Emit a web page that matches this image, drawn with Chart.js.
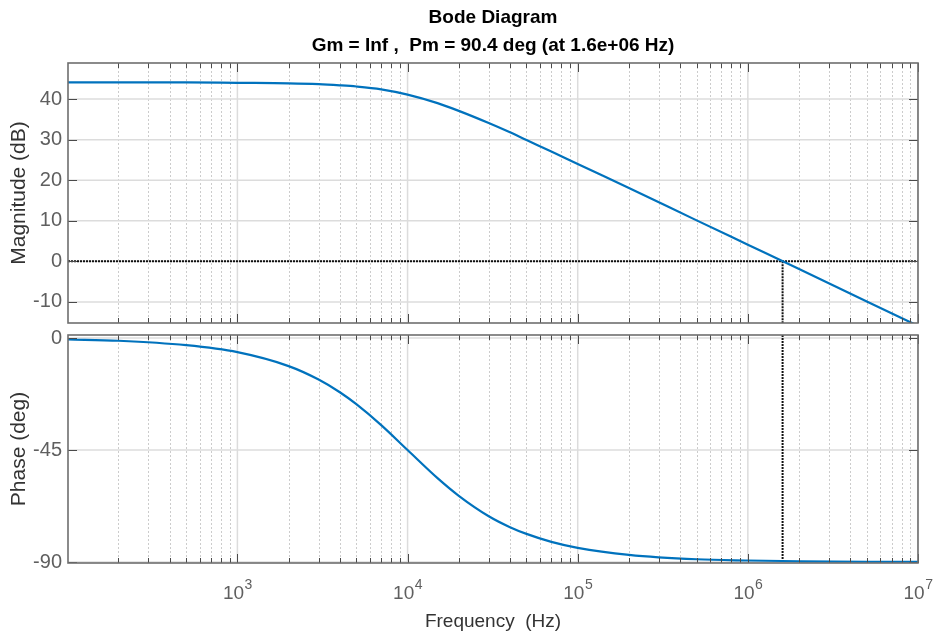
<!DOCTYPE html>
<html>
<head>
<meta charset="utf-8">
<title>Bode Diagram</title>
<script src="https://cdn.jsdelivr.net/npm/chart.js@4.4.1/dist/chart.umd.min.js"></script>
<style>
  body { margin: 0; background: #fff; }
  #wrap { position: relative; width: 933px; height: 637px; }
  #magChart { position: absolute; left: 0; top: 0; }
  #phaseChart { position: absolute; left: 0; top: 328px; }
</style>
</head>
<body>
<div id="wrap">
  <canvas id="magChart" width="933" height="328"></canvas>
  <canvas id="phaseChart" width="933" height="309"></canvas>
</div>
<script>
// values
const freq      = [101, 200, 500, 1e3, 2e3, 3e3, 4e3, 5e3, 7e3, 1e4, 1.5e4, 2e4, 3e4, 4e4, 5e4, 7e4, 1e5, 2e5, 5e5, 1e6, 2e6, 5e6, 1e7];
const magnitude = [44.1, 44.1, 44.1, 44.0, 43.9, 43.7, 43.4, 43.1, 42.4, 41.1, 39.0, 37.1, 34.1, 31.8, 29.9, 27.1, 24.0, 18.1, 10.1, 4.1, -1.9, -9.9, -15.9];
const phase     = [-0.6, -1.1, -2.9, -5.7, -11.3, -16.7, -21.8, -26.6, -35.0, -45.0, -56.3, -63.4, -71.6, -76.0, -78.7, -81.9, -84.3, -87.1, -88.9, -89.4, -89.7, -89.9, -89.9];

const crossFreq  = 1.6e6;
const freqRange  = [101, 1e7];
const magRange   = [-15.2, 48.9];
const phaseRange = [-90.4, 1.2];

const magTicks    = [-10, 0, 10, 20, 30, 40];
const phaseTicks  = [-90, -45, 0];
const freqTicks   = [1e3, 1e4, 1e5, 1e6, 1e7];
const freqTickExp = ['3', '4', '5', '6', '7'];

const FONT = "'Liberation Sans', Arial, sans-serif";
const BLUE = '#0072BD';

// minor decade positions (2..9 x 10^n) for grid and tick marks
const minorFreqs = [];
for (let d = 100; d < 1e7; d *= 10) {
    for (let k = 2; k <= 9; k++) minorFreqs.push(d * k);
}

const seg = (ctx, x1, y1, x2, y2) => {
    ctx.beginPath();
    ctx.moveTo(x1, y1);
    ctx.lineTo(x2, y2);
    ctx.stroke();
};

// matlab-like frame: grid behind the curves, box and inward ticks on top
const bodeFrame = {
    id: 'bodeFrame',
    beforeDatasetsDraw(chart) {
        const { ctx, chartArea: a, scales: { x, y } } = chart;
        ctx.save();
        ctx.beginPath();
        ctx.rect(a.left, a.top, a.width, a.height);
        ctx.clip();

        ctx.strokeStyle = '#cccccc';
        ctx.lineWidth = 1;
        ctx.setLineDash([2, 2]);
        minorFreqs.forEach(f => {
            const px = Math.round(x.getPixelForValue(f)) + 0.5;
            seg(ctx, px, a.top, px, a.bottom);
        });

        ctx.setLineDash([]);
        ctx.strokeStyle = '#dcdcdc';
        ctx.lineWidth = 1.5;
        freqTicks.forEach(f => {
            const px = x.getPixelForValue(f);
            seg(ctx, px, a.top, px, a.bottom);
        });
        y.ticks.forEach(t => {
            const py = y.getPixelForValue(t.value);
            seg(ctx, a.left, py, a.right, py);
        });
        ctx.restore();
    },
    afterDatasetsDraw(chart) {
        const { ctx, chartArea: a, scales: { x, y } } = chart;
        ctx.save();
        ctx.strokeStyle = '#4a4a4a';
        ctx.lineWidth = 1;
        minorFreqs.forEach(f => {
            const px = Math.round(x.getPixelForValue(f)) + 0.5;
            seg(ctx, px, a.top, px, a.top + 5);
            seg(ctx, px, a.bottom, px, a.bottom - 5);
        });
        freqTicks.forEach(f => {
            const px = Math.round(x.getPixelForValue(f)) + 0.5;
            seg(ctx, px, a.top, px, a.top + 9);
            seg(ctx, px, a.bottom, px, a.bottom - 9);
        });
        y.ticks.forEach(t => {
            const py = Math.round(y.getPixelForValue(t.value)) + 0.5;
            seg(ctx, a.left, py, a.left + 9, py);
            seg(ctx, a.right, py, a.right - 9, py);
        });
        ctx.strokeStyle = '#6e6e6e';
        ctx.lineWidth = 1.6;
        ctx.strokeRect(a.left, a.top, a.width, a.height);
        ctx.restore();
    }
};

// 10^n labels under the phase panel
const decadeLabels = {
    id: 'decadeLabels',
    afterDraw(chart) {
        const { ctx, chartArea: a, scales: { x } } = chart;
        ctx.save();
        ctx.fillStyle = '#5f5f5f';
        ctx.textBaseline = 'middle';
        ctx.textAlign = 'left';
        freqTicks.forEach((f, i) => {
            const px = x.getPixelForValue(f);
            ctx.font = '19px ' + FONT;
            const wb = ctx.measureText('10').width;
            ctx.font = '14px ' + FONT;
            const we = ctx.measureText(freqTickExp[i]).width;
            const left = px - (wb + we) / 2;
            ctx.font = '19px ' + FONT;
            ctx.fillText('10', left, a.bottom + 31);
            ctx.font = '14px ' + FONT;
            ctx.fillText(freqTickExp[i], left + wb + 0.5, a.bottom + 22);
        });
        ctx.restore();
    }
};

const curve = (ys) => ({
    data: freq.map((f, i) => ({ x: f, y: ys[i] })),
    borderColor: BLUE,
    borderWidth: 2.2,
    pointRadius: 0,
    cubicInterpolationMode: 'monotone'
});

const marker = (pts) => ({
    data: pts,
    borderColor: '#111111',
    borderWidth: 2,
    borderDash: [2, 1],
    pointRadius: 0
});

const yAxis = (range, ticks, label) => ({
    min: range[0],
    max: range[1],
    afterBuildTicks: s => { s.ticks = ticks.map(v => ({ value: v })); },
    afterFit: s => {
        s.width = 68;
        // keep the plot box where the frame sits, labels may overhang
        s.paddingTop = 0;
        s.paddingBottom = 0;
    },
    grid: { display: false, drawTicks: false },
    border: { display: false },
    ticks: { color: '#5f5f5f', padding: 6, font: { family: FONT, size: 20 } },
    title: { display: true, text: label, color: '#333333', padding: { top: 7, bottom: 0 },
             font: { family: FONT, size: 21 } }
});

const magChart = new Chart(document.getElementById('magChart'), {
    type: 'line',
    data: {
        datasets: [
            curve(magnitude),
            marker([{ x: freqRange[0], y: 0 }, { x: freqRange[1], y: 0 }]),
            marker([{ x: crossFreq, y: 0 }, { x: crossFreq, y: magRange[0] }])
        ]
    },
    options: {
        responsive: false,
        animation: false,
        layout: { padding: { left: 0, right: 15, top: 0, bottom: 5 } },
        plugins: {
            legend: { display: false },
            tooltip: { enabled: false },
            title: {
                display: true,
                fullSize: false,
                text: ['Bode Diagram', 'Gm = Inf ,  Pm = 90.4 deg (at 1.6e+06 Hz)'],
                color: '#000000',
                font: { family: FONT, size: 19, weight: 'bold', lineHeight: 28 / 19 },
                padding: { top: 4, bottom: 3 }
            }
        },
        scales: {
            x: { type: 'logarithmic', min: freqRange[0], max: freqRange[1], display: false },
            y: yAxis(magRange, magTicks, 'Magnitude (dB)')
        }
    },
    plugins: [bodeFrame]
});

const phaseChart = new Chart(document.getElementById('phaseChart'), {
    type: 'line',
    data: {
        datasets: [
            curve(phase),
            marker([{ x: crossFreq, y: phaseRange[1] }, { x: crossFreq, y: phaseRange[0] }])
        ]
    },
    options: {
        responsive: false,
        animation: false,
        layout: { padding: { left: 0, right: 15, top: 7, bottom: 0 } },
        plugins: {
            legend: { display: false },
            tooltip: { enabled: false }
        },
        scales: {
            x: {
                type: 'logarithmic',
                min: freqRange[0],
                max: freqRange[1],
                afterFit: s => { s.height = 74; },
                grid: { display: false, drawTicks: false },
                border: { display: false },
                ticks: { display: false },
                title: { display: true, text: 'Frequency  (Hz)', color: '#333333',
                         padding: { top: 0, bottom: 4 }, font: { family: FONT, size: 19 } }
            },
            y: yAxis(phaseRange, phaseTicks, 'Phase (deg)')
        }
    },
    plugins: [bodeFrame, decadeLabels]
});
</script>
</body>
</html>
